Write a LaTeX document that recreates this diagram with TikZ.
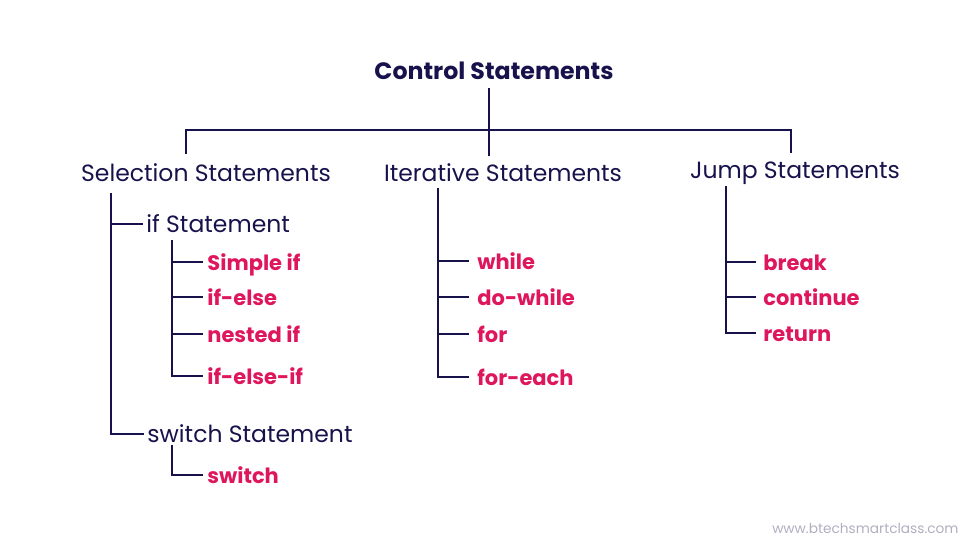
\documentclass[tikz,border=0pt]{standalone}
\usepackage{fontspec}
\setmainfont{Poppins}
\usetikzlibrary{positioning}
\definecolor{navy}{RGB}{24,18,76}
\definecolor{rosered}{RGB}{222,22,92}
\definecolor{sitegray}{RGB}{178,174,192}

\begin{document}
\begin{tikzpicture}[
  x=1pt, y=-1pt,
  line width=2.8pt, draw=navy,
  head/.style={anchor=base,inner sep=0pt,text=navy,font=\fontsize{23.5}{27}\selectfont},
  sub/.style={anchor=base west,inner sep=0pt,text=navy,font=\fontsize{23.5}{27}\selectfont},
  leaf/.style={anchor=base west,inner sep=0pt,text=rosered,font=\fontsize{21}{25}\selectfont\bfseries}
]
\useasboundingbox (0,0) rectangle (980,551);

% headings
\node[head,font=\fontsize{23.7}{28}\selectfont\bfseries] (ctrl) at (494,79) {Control Statements};
\node[head] (sel) at (206,181) {Selection Statements};
\node[head] (itr) at (503,181) {Iterative Statements};
\node[head] (jmp) at (795,178) {Jump Statements};

% top bar
\coordinate (root) at (489,88);
\coordinate (bar) at (489,130);
\coordinate (selTop) at (186,154);
\coordinate (itrTop) at (489,156);
\coordinate (jmpTop) at (791,153);
\draw (root) -- (itrTop);
\draw (selTop) |- (bar) -| (jmpTop);

% selection
\node[sub] (ifst) at (145,232) {if Statement};
\node[sub] (swst) at (146,442) {switch Statement};
\node[leaf] (simp) at (206,270) {Simple if};
\node[leaf] (ifel) at (206,305) {if-else};
\node[leaf] (nest) at (206,342) {nested if};
\node[leaf] (elif) at (206,384) {if-else-if};
\node[leaf] (swch) at (206,483) {switch};
\coordinate (selT) at (111,193);
\coordinate (ifT) at (172,240);
\coordinate (swT) at (172,445);
\draw (selT) |- ([shift={(-2,-8)}]ifst.base west);
\draw (selT) |- ([shift={(-2,-8)}]swst.base west);
\foreach \n in {simp,ifel,nest,elif}
  \draw (ifT) |- ([shift={(-3,-8)}]\n.base west);
\draw (swT) |- ([shift={(-3,-8)}]swch.base west);

% iterative
\node[leaf] (whl) at (476,269) {while};
\node[leaf] (dowh) at (476,305) {do-while};
\node[leaf] (forl) at (476,342) {for};
\node[leaf] (fore) at (476,385) {for-each};
\coordinate (itrT) at (438,188);
\foreach \n in {whl,dowh,forl,fore}
  \draw (itrT) |- ([shift={(-7,-8)}]\n.base west);

% jump
\node[leaf] (brk) at (762,270) {break};
\node[leaf] (cont) at (762,305) {continue};
\node[leaf] (ret) at (762,341) {return};
\coordinate (jmpT) at (726,186);
\foreach \n in {brk,cont,ret}
  \draw (jmpT) |- ([shift={(-6,-8)}]\n.base west);

\node[anchor=base east,inner sep=0pt,text=sitegray,font=\fontsize{13.7}{16}\selectfont] (site) at (960,533) {www.btechsmartclass.com};
\end{tikzpicture}
\end{document}
